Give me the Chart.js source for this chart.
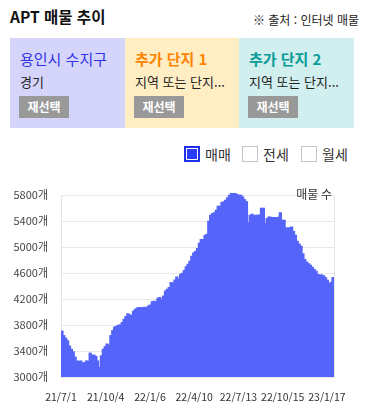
<!DOCTYPE html>
<html lang="ko">
<head>
<meta charset="utf-8">
<script src="https://cdn.jsdelivr.net/npm/chart.js@4.4.1/dist/chart.umd.min.js"></script>
<style>
  body { margin: 0; width: 368px; height: 411px; background: #fff; font-family: "Noto Sans CJK KR", "Noto Sans", sans-serif; position: relative; overflow: hidden; color: #222; }
  .title { position: absolute; left: 10px; top: 6px; font-size: 15.5px; font-weight: bold; line-height: 20px; color: #111; }
  .source { position: absolute; right: 9px; top: 12px; font-size: 12px; line-height: 16px; color: #222; }
  .box { position: absolute; top: 38px; height: 90px; width: 115px; box-sizing: border-box; padding-left: 10px; }
  .box .name { position: absolute; left: 10px; top: 11px; font-size: 15px; line-height: 20px; white-space: nowrap; }
  .box .sub { position: absolute; left: 10px; top: 35px; font-size: 13px; line-height: 18px; color: #222; white-space: nowrap; }
  .box .btn { position: absolute; left: 9px; top: 58px; width: 50px; height: 22px; background: #999; color: #fff; font-size: 12px; font-weight: bold; line-height: 22px; text-align: center; }
  .legend { position: absolute; top: 146px; font-size: 14px; line-height: 16px; color: #333; }
  .chk { position: absolute; top: 146px; width: 16px; height: 16px; box-sizing: border-box; border: 1px solid #c4c4cc; background: #fff; }
  .chk.on { border: 2px solid #1f30f0; background: #2a3cf6; box-shadow: inset 0 0 0 1px #fff; }
  #wrap { position: absolute; left: 0; top: 175px; width: 368px; height: 236px; }
</style>
</head>
<body>
<div class="title">APT 매물 추이</div>
<div class="source">※ 출처 : 인터넷 매물</div>

<div class="box" style="left:10px; background:#d5d5fb;">
  <div class="name" style="color:#3434e6;">용인시 수지구</div>
  <div class="sub">경기</div>
  <div class="btn">재선택</div>
</div>
<div class="box" style="left:125px; width:114px; background:#ffedc4;">
  <div class="name" style="color:#ff8400; font-weight:600;">추가 단지 1</div>
  <div class="sub">지역 또는 단지...</div>
  <div class="btn">재선택</div>
</div>
<div class="box" style="left:239px; background:#d1efee;">
  <div class="name" style="color:#0a9c98; font-weight:600;">추가 단지 2</div>
  <div class="sub">지역 또는 단지...</div>
  <div class="btn">재선택</div>
</div>

<div class="chk on" style="left:184px;"></div><div class="legend" style="left:205px;">매매</div>
<div class="chk" style="left:242px;"></div><div class="legend" style="left:263px;">전세</div>
<div class="chk" style="left:301px;"></div><div class="legend" style="left:322px;">월세</div>

<div id="wrap"><canvas id="aptChart"></canvas></div>

<script>
// first date of the series, and days between two samples
const startDate = '21/7/1';
const stepDays = 4;

// listing counts, one per sample
const listingCounts = [
  3710, 3640, 3600, 3560, 3480, 3430, 3390, 3310, 3250, 3240,
  3250, 3220, 3220, 3250, 3245, 3370, 3335, 3340, 3320, 3250,
  3150, 3330, 3430, 3470, 3510, 3490, 3640, 3717, 3770, 3785,
  3800, 3805, 3840, 3890, 3935, 3975, 3960, 3950, 4015, 4045,
  4065, 4070, 4070, 4066, 4076, 4070, 4095, 4110, 4160, 4168,
  4164, 4215, 4225, 4190, 4250, 4327, 4353, 4380, 4455, 4445,
  4496, 4540, 4505, 4580, 4600, 4640, 4697, 4738, 4785, 4860,
  4910, 4933, 4979, 5060, 5118, 5118, 5180, 5200, 5400, 5492,
  5518, 5530, 5569, 5631, 5631, 5688, 5698, 5723, 5759, 5800,
  5826, 5826, 5826, 5810, 5800, 5800, 5770, 5730, 5698, 5374,
  5490, 5505, 5485, 5492, 5492, 5495, 5600, 5600, 5360, 5440,
  5465, 5460, 5458, 5458, 5458, 5460, 5530, 5415, 5415, 5295,
  5295, 5300, 5310, 5240, 5185, 5090, 5050, 5015, 4900, 4810,
  4770, 4745, 4720, 4690, 4655, 4630, 4580, 4572, 4572, 4560,
  4530, 4490, 4440, 4460, 4535
];

// x axis tick labels
const tickLabels = ['21/7/1', '21/10/4', '22/1/6', '22/4/10', '22/7/13', '22/10/15', '23/1/17'];

// y axis range
const yMin = 3000;
const yMax = 5800;
const yStep = 400;

// turn 'yy/m/d' into a day count from the first date
function toDate(s) {
    const p = s.split('/').map(Number);
    return Date.UTC(2000 + p[0], p[1] - 1, p[2]);
}
function dayOffset(s) {
    return Math.round((toDate(s) - toDate(startDate)) / 86400000);
}

const tickDays = tickLabels.map(dayOffset);
const points = listingCounts.map((v, i) => ({ x: i * stepDays + stepDays / 2, y: v }));
const lastDay = listingCounts.length * stepDays;

// right frame line and the small "매물 수" caption
const chartExtras = {
    id: 'chartExtras',
    afterDraw(chart) {
        const { ctx, chartArea } = chart;
        ctx.save();
        ctx.strokeStyle = '#e4e4e4';
        ctx.lineWidth = 1;
        ctx.beginPath();
        ctx.moveTo(Math.round(chartArea.right) + 0.5, chartArea.top);
        ctx.lineTo(Math.round(chartArea.right) + 0.5, chartArea.bottom);
        ctx.stroke();
        ctx.fillStyle = '#333';
        ctx.font = '12px "Noto Sans CJK KR"';
        ctx.textAlign = 'right';
        ctx.textBaseline = 'middle';
        ctx.fillText('매물 수', chartArea.right - 2, chartArea.top - 1);
        ctx.restore();
    }
};

const ctx = document.getElementById('aptChart').getContext('2d');
new Chart(ctx, {
    type: 'bar',
    data: {
        datasets: [{
            label: '매매',
            data: points,
            backgroundColor: '#5564f9',
            borderWidth: 0,
            barThickness: 2.6,
            clip: { left: 0, right: 0, top: 3, bottom: 0 }
        }]
    },
    options: {
        responsive: true,
        maintainAspectRatio: false,
        animation: false,
        layout: {
            padding: { top: 20, right: 34, bottom: 0, left: 0 }
        },
        scales: {
            x: {
                type: 'linear',
                offset: false,
                min: 0,
                max: lastDay,
                grid: { display: false },
                border: { display: false },
                afterBuildTicks: function (scale) {
                    scale.ticks = tickDays.map(d => ({ value: d }));
                },
                afterFit: function (scale) {
                    scale.height = 34;
                },
                ticks: {
                    autoSkip: false,
                    maxRotation: 0,
                    padding: 6,
                    color: '#333',
                    font: { family: '"Noto Sans CJK KR"', size: 10.5 },
                    callback: function (value) {
                        const i = tickDays.indexOf(value);
                        return i >= 0 ? tickLabels[i] : '';
                    }
                }
            },
            y: {
                min: yMin,
                max: yMax,
                afterFit: function (scale) {
                    scale.width = 61;
                },
                grid: {
                    color: '#e8e8e8',
                    drawTicks: false
                },
                border: { color: '#e4e4e4' },
                ticks: {
                    stepSize: yStep,
                    padding: 13,
                    color: '#444',
                    font: { family: '"Noto Sans CJK KR"', size: 11 },
                    callback: function (value) {
                        return value + '개';
                    }
                }
            }
        },
        plugins: {
            legend: { display: false },
            tooltip: { enabled: false }
        }
    },
    plugins: [chartExtras]
});
</script>
</body>
</html>
